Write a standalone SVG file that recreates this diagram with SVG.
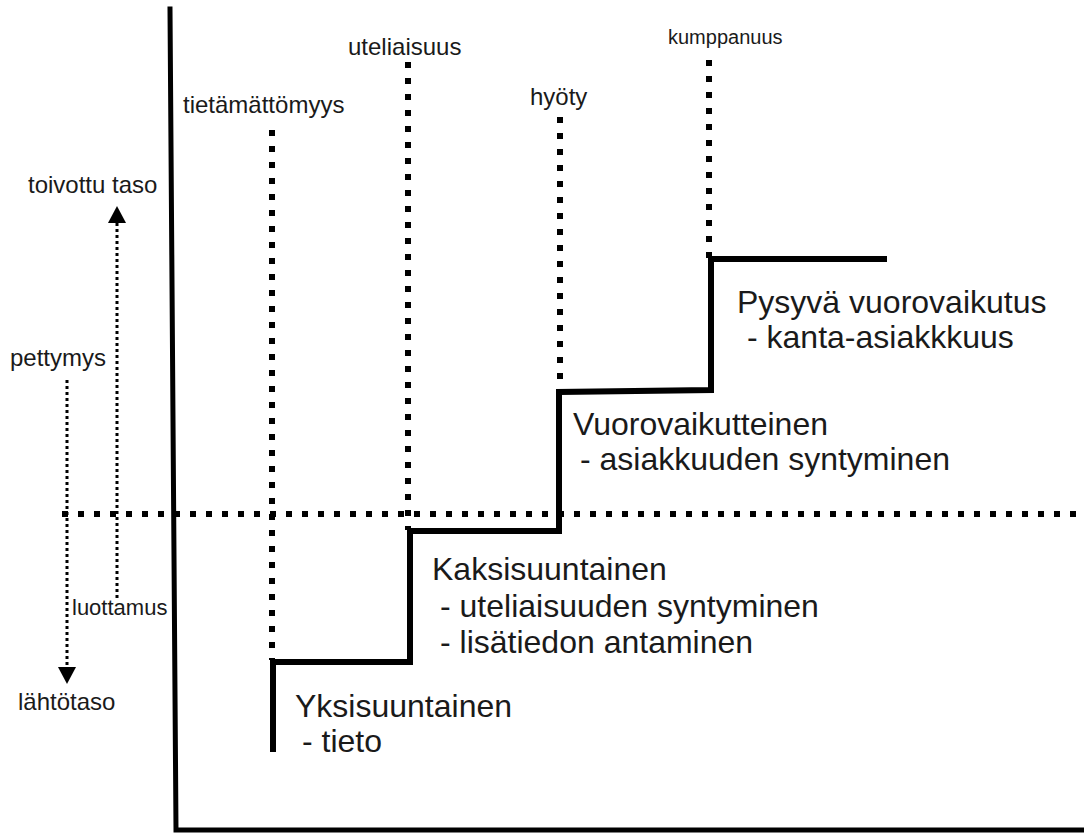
<svg xmlns="http://www.w3.org/2000/svg" width="1084" height="838" viewBox="0 0 1084 838">
<style>
.bg{fill:#fff}
.axis{stroke:#000;stroke-width:5;fill:none;stroke-linecap:square}
.step{stroke:#000;stroke-width:6;fill:none;stroke-linejoin:miter}
.bigdot{stroke:#000;stroke-width:6;fill:none;stroke-dasharray:6 10}
.smalldot{stroke:#000;stroke-width:3;fill:none;stroke-dasharray:3 3}
.sm{font-family:"Liberation Sans",Arial,sans-serif;font-size:24px;fill:#1a1a1a}
.lg{font-family:"Liberation Sans",Arial,sans-serif;font-size:32px;fill:#1a1a1a}
</style>
<rect class="bg" x="0" y="0" width="1084" height="838"/>
<g id="connectors">
  <path class="bigdot" d="M62 514 H1084"/>
  <path class="bigdot" d="M272 130 V660"/>
  <path class="bigdot" d="M408 62 V530"/>
  <path class="bigdot" d="M560 117 V392"/>
  <path class="bigdot" d="M709 60 V258"/>
  <path class="smalldot" d="M117 598 V222"/>
  <polygon points="117,206 108,223 126,223" fill="#000"/>
  <path class="smalldot" d="M67 380 V667"/>
  <polygon points="67,684 58,667 76,667" fill="#000"/>
  <path class="step" d="M273 752 V662 H410 V531 H559 V392 L711 390 V259 H887"/>
</g>
<g id="axes">
  <path class="axis" d="M170 9 L176 830 H1084"/>
</g>
<g id="label-toivottu"><text class="sm" x="28" y="193">toivottu taso</text></g>
<g id="label-pettymys"><text class="sm" x="10" y="366">pettymys</text></g>
<g id="label-luottamus"><text class="sm" x="72" y="615" style="font-size:22px">luottamus</text></g>
<g id="label-lahtotaso"><text class="sm" x="18" y="710">lähtötaso</text></g>
<g id="label-tietamattomyys"><text class="sm" x="183" y="113">tietämättömyys</text></g>
<g id="label-uteliaisuus"><text class="sm" x="348" y="55">uteliaisuus</text></g>
<g id="label-hyoty"><text class="sm" x="530" y="105">hyöty</text></g>
<g id="label-kumppanuus"><text class="sm" x="668" y="44" style="font-size:20px">kumppanuus</text></g>
<g id="node-yksisuuntainen">
  <text class="lg" x="295" y="717">Yksisuuntainen</text>
  <text class="lg" x="302" y="752">- tieto</text>
</g>
<g id="node-kaksisuuntainen">
  <text class="lg" x="432" y="580">Kaksisuuntainen</text>
  <text class="lg" x="440" y="617">- uteliaisuuden syntyminen</text>
  <text class="lg" x="440" y="653">- lisätiedon antaminen</text>
</g>
<g id="node-vuorovaikutteinen">
  <text class="lg" x="573" y="435">Vuorovaikutteinen</text>
  <text class="lg" x="580" y="470">- asiakkuuden syntyminen</text>
</g>
<g id="node-pysyva">
  <text class="lg" x="737" y="313">Pysyvä vuorovaikutus</text>
  <text class="lg" x="747" y="348">- kanta-asiakkkuus</text>
</g>
</svg>
